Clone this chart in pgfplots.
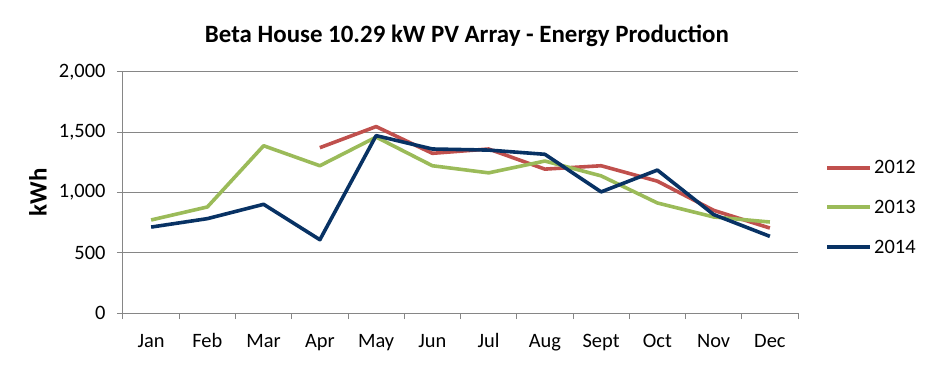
\documentclass[border=0pt]{standalone}
\usepackage{pgfplots}
\pgfplotsset{compat=1.18}
\usepackage{fontspec}
\setmainfont{Carlito}
\definecolor{c2012}{RGB}{192,80,77}
\definecolor{c2013}{RGB}{155,187,89}
\definecolor{c2014}{RGB}{8,50,100}
\definecolor{gridc}{RGB}{134,134,134}
\begin{document}
\begin{tikzpicture}
\useasboundingbox (-123bp,-52bp) rectangle (814bp,313bp);
\begin{axis}[
  scale only axis,
  width=675bp, height=241bp,
  xmin=0.5, xmax=12.5, ymin=0, ymax=2000,
  axis x line=bottom, axis y line=left,
  axis line style={draw=gridc, line width=1bp, -},
  xtick={1,...,12},
  xticklabels={Jan,Feb,Mar,Apr,May,Jun,Jul,Aug,Sept,Oct,Nov,Dec},
  minor xtick={0.5,1.5,...,12.5},
  major x tick style={draw=none},
  minor x tick style={draw=gridc, line width=1bp},
  minor tick length=6bp,
  ytick={0,500,...,2000},
  major tick length=6bp,
  tick align=outside,
  y tick style={draw=gridc, line width=1bp},
  ymajorgrids,
  major grid style={draw=gridc, line width=1bp},
  /pgf/number format/.cd, 1000 sep={,}, assume math mode=true,
  /pgfplots/.cd,
  ticklabel style={font=\fontsize{20.5}{21}\selectfont, text=black},
  yticklabel style={xshift=-8bp},
  xticklabel style={anchor=base, yshift=-28bp},
  ylabel={\textbf{kWh}},
  ylabel style={font=\fontsize{25}{27}\selectfont, at={(axis description cs:-0.126,0.5)}, anchor=center},
  title={\textbf{Beta House 10.29 kW PV Array - Energy Production}},
  title style={font=\fontsize{25}{27}\selectfont, at={(axis description cs:0.5096,1.125)}, anchor=center},
  legend style={draw=none, fill=none, inner sep=0pt, font=\fontsize{20.5}{21}\selectfont,
    at={(axis description cs:1.040,0.438)}, anchor=west, row sep=21bp,
    /tikz/every even column/.append style={column sep=0bp}},
  legend cell align=left,
  legend image code/.code={\draw[#1, line width=4bp] (0bp,0bp) -- (43bp,0bp);},
  every axis plot/.append style={line width=3.6bp, line join=round},
  clip=false,
]
\addplot[c2012, mark=none] coordinates {(4,1372) (5,1547) (6,1325) (7,1361) (8,1194) (9,1222) (10,1094) (11,852) (12,705)};
\addlegendentry{2012}
\addplot[c2013, mark=none] coordinates {(1,772) (2,880) (3,1388) (4,1222) (5,1460) (6,1222) (7,1163) (8,1261) (9,1138) (10,913) (11,797) (12,755)};
\addlegendentry{2013}
\addplot[c2014, mark=none] coordinates {(1,713) (2,783) (3,902) (4,608) (5,1472) (6,1361) (7,1352) (8,1317) (9,1005) (10,1186) (11,817) (12,636)};
\addlegendentry{2014}
\end{axis}
\end{tikzpicture}
\end{document}
